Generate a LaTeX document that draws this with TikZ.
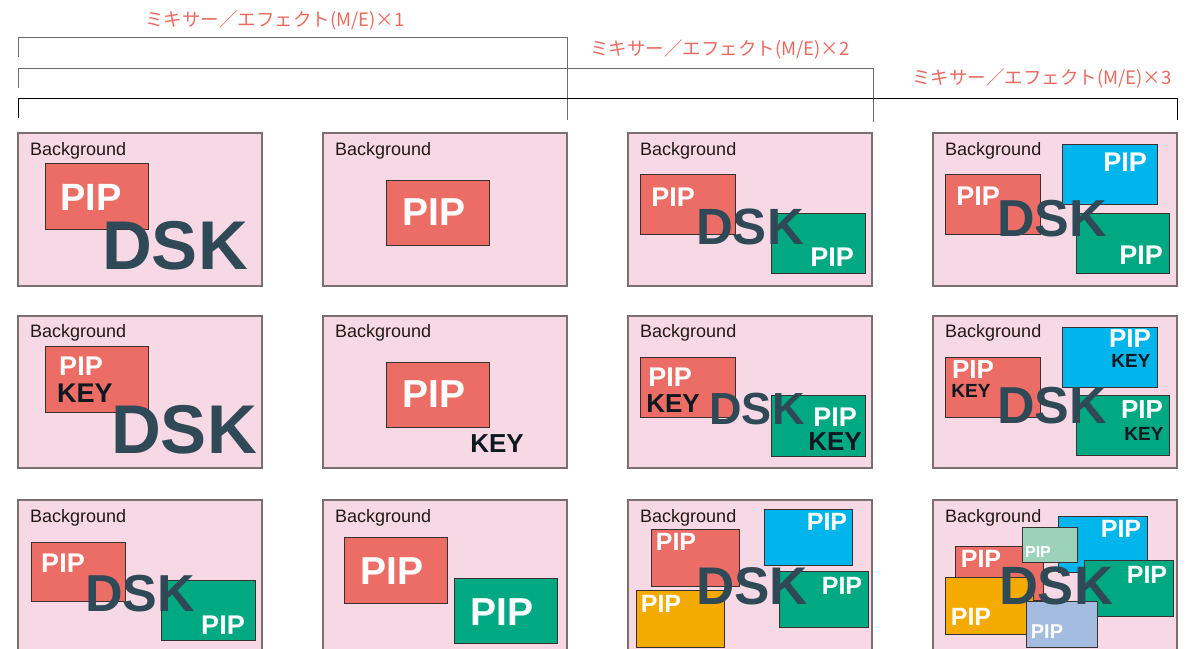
\documentclass[tikz,border=0pt]{standalone}
\usepackage{fontspec}
\setmainfont{Liberation Sans}
\newfontfamily\jpfont{Noto Sans CJK JP}
\definecolor{bgpink}{HTML}{F7D9E6}
\definecolor{panelgray}{HTML}{7B6F70}
\definecolor{rectedge}{HTML}{3A3030}
\definecolor{bgtextcol}{HTML}{231815}
\definecolor{pipred}{HTML}{EC6D66}
\definecolor{pipgreen}{HTML}{00A982}
\definecolor{pipblue}{HTML}{00B5EC}
\definecolor{piporange}{HTML}{F5AA00}
\definecolor{pipmint}{HTML}{9DD2BA}
\definecolor{piplblue}{HTML}{A4BCE0}
\definecolor{dskcol}{HTML}{2F4A56}
\definecolor{keycol}{HTML}{0E1820}
\definecolor{labelred}{HTML}{EA6A61}
\definecolor{brackgray}{HTML}{6B6B6B}

\begin{document}
\begin{tikzpicture}[x=1pt,y=-1pt,
  panel/.style={fill=bgpink,draw=panelgray,line width=1.1pt},
  pip/.style={fill=#1,draw=rectedge,line width=0.9pt},
  bgtext/.style={anchor=base west,inner sep=0pt,text=bgtextcol,font=\fontsize{18}{18}\selectfont},
  piptext/.style={text=white,inner sep=0pt,font=\bfseries\fontsize{#1}{#1}\selectfont},
  keytext/.style={text=keycol,inner sep=0pt,font=\bfseries\fontsize{#1}{#1}\selectfont},
  dsktext/.style={text=dskcol,inner sep=0pt,font=\bfseries\fontsize{#1}{#1}\selectfont},
  melabel/.style={text=labelred,inner sep=0pt,font=\jpfont\fontsize{18.5}{18.5}\selectfont},
  bracket/.style={line width=1pt,draw=#1}]
\useasboundingbox (0,0) rectangle (1198,648);

\node[melabel] (me1) at (275,20) {ミキサー／エフェクト(M/E)×1};
\node[melabel] (me2) at (720,49) {ミキサー／エフェクト(M/E)×2};
\node[melabel] (me3) at (1042,78) {ミキサー／エフェクト(M/E)×3};
\draw[bracket=brackgray] (18,57) -- (18,37) -- (567,37) -- (567,120);
\draw[bracket=brackgray] (18,88) -- (18,68) -- (873,68) -- (873,122);
\draw[bracket=black] (18,118) -- (18,98) -- (1177,98) -- (1177,120);

\draw[panel] (18,133) rectangle (262,286);
\node[bgtext] (bga1) at (30,155) {Background};
\draw[pip=pipred] (45,163) rectangle (148,229);
\node[piptext=38] (pa1) at (91,197) {PIP};
\node[dsktext=69] (da1) at (175,246) {DSK};

\draw[panel] (323,133) rectangle (567,286);
\node[bgtext] (bgb1) at (335,155) {Background};
\draw[pip=pipred] (386,180) rectangle (489,245);
\node[piptext=39] (pb1) at (434,212) {PIP};

\draw[panel] (628,133) rectangle (872,286);
\node[bgtext] (bgc1) at (640,155) {Background};
\draw[pip=pipred] (640,174) rectangle (735,234);
\node[piptext=27] (pc1r) at (673,197) {PIP};
\draw[pip=pipgreen] (771,213) rectangle (865,273);
\node[piptext=27] (pc1g) at (832,257) {PIP};
\node[dsktext=51] (dc1) at (750,227) {DSK};

\draw[panel] (933,133) rectangle (1177,286);
\node[bgtext] (bgd1) at (945,155) {Background};
\draw[pip=pipred] (945,174) rectangle (1040,234);
\node[piptext=27] (pd1r) at (978,196) {PIP};
\draw[pip=pipblue] (1062,144) rectangle (1157,204);
\node[piptext=27] (pd1b) at (1125,162) {PIP};
\draw[pip=pipgreen] (1076,213) rectangle (1169,273);
\node[piptext=27] (pd1g) at (1141,255) {PIP};
\node[dsktext=52] (dd1) at (1052,219) {DSK};

\draw[panel] (18,316) rectangle (262,468);
\node[bgtext] (bga2) at (30,337) {Background};
\draw[pip=pipred] (45,346) rectangle (148,412);
\node[piptext=27] (pa2) at (81,366) {PIP};
\node[keytext=27] (ka2) at (85,393) {KEY};
\node[dsktext=69] (da2) at (184,430) {DSK};

\draw[panel] (323,316) rectangle (567,468);
\node[bgtext] (bgb2) at (335,337) {Background};
\draw[pip=pipred] (386,362) rectangle (489,427);
\node[piptext=39] (pb2) at (434,394) {PIP};
\node[keytext=26] (kb2) at (497,444) {KEY};

\draw[panel] (628,316) rectangle (872,468);
\node[bgtext] (bgc2) at (640,337) {Background};
\draw[pip=pipred] (640,357) rectangle (735,417);
\node[piptext=27] (pc2r) at (670,377) {PIP};
\node[keytext=26] (kc2r) at (673,404) {KEY};
\draw[pip=pipgreen] (771,395) rectangle (865,456);
\node[piptext=27] (pc2g) at (835,417) {PIP};
\node[keytext=26] (kc2g) at (835,442) {KEY};
\node[dsktext=45] (dc2) at (757,409) {DSK};

\draw[panel] (933,316) rectangle (1177,468);
\node[bgtext] (bgd2) at (945,337) {Background};
\draw[pip=pipred] (945,357) rectangle (1040,417);
\node[piptext=26] (pd2r) at (973,370) {PIP};
\node[keytext=19] (kd2r) at (971,391) {KEY};
\draw[pip=pipblue] (1062,327) rectangle (1157,387);
\node[piptext=26] (pd2b) at (1130,339) {PIP};
\node[keytext=19] (kd2b) at (1131,361) {KEY};
\draw[pip=pipgreen] (1076,395) rectangle (1169,455);
\node[piptext=26] (pd2g) at (1142,410) {PIP};
\node[keytext=19] (kd2g) at (1144,434) {KEY};
\node[dsktext=52] (dd2) at (1052,406) {DSK};

\draw[panel] (18,500) rectangle (262,670);
\node[bgtext] (bga3) at (30,522) {Background};
\draw[pip=pipred] (31,542) rectangle (125,601);
\node[piptext=27] (pa3r) at (63,563) {PIP};
\draw[pip=pipgreen] (161,580) rectangle (255,640);
\node[piptext=27] (pa3g) at (223,625) {PIP};
\node[dsktext=52] (da3) at (140,594) {DSK};

\draw[panel] (323,500) rectangle (567,670);
\node[bgtext] (bgb3) at (335,522) {Background};
\draw[pip=pipred] (344,537) rectangle (447,603);
\node[piptext=39] (pb3r) at (392,571) {PIP};
\draw[pip=pipgreen] (454,578) rectangle (557,643);
\node[piptext=39] (pb3g) at (502,612) {PIP};

\draw[panel] (628,500) rectangle (872,670);
\node[bgtext] (bgc3) at (640,522) {Background};
\draw[pip=pipred] (651,529) rectangle (739,586);
\node[piptext=25] (pc3r) at (676,542) {PIP};
\draw[pip=pipblue] (764,509) rectangle (852,565);
\node[piptext=25] (pc3b) at (827,522) {PIP};
\draw[pip=pipgreen] (779,571) rectangle (868,627);
\node[piptext=25] (pc3g) at (842,586) {PIP};
\draw[pip=piporange] (636,590) rectangle (724,647);
\node[piptext=25] (pc3o) at (661,604) {PIP};
\node[dsktext=53] (dc3) at (752,586) {DSK};

\draw[panel] (933,500) rectangle (1177,670);
\node[bgtext] (bgd3) at (945,522) {Background};
\draw[pip=pipred] (955,546) rectangle (1043,600);
\node[piptext=25] (pd3r) at (981,559) {PIP};
\draw[pip=pipblue] (1058,516) rectangle (1147,572);
\node[piptext=25] (pd3b) at (1121,529) {PIP};
\draw[pip=pipmint] (1022,527) rectangle (1077,562);
\node[piptext=16] (pd3m) at (1038,552) {PIP};
\draw[pip=pipgreen] (1084,560) rectangle (1173,616);
\node[piptext=25] (pd3g) at (1147,575) {PIP};
\draw[pip=piporange] (945,577) rectangle (1033,634);
\node[piptext=25] (pd3o) at (971,617) {PIP};
\draw[pip=piplblue] (1026,601) rectangle (1097,647);
\node[piptext=20] (pd3l) at (1047,632) {PIP};
\node[dsktext=54] (dd3) at (1056,586) {DSK};
\end{tikzpicture}
\end{document}
